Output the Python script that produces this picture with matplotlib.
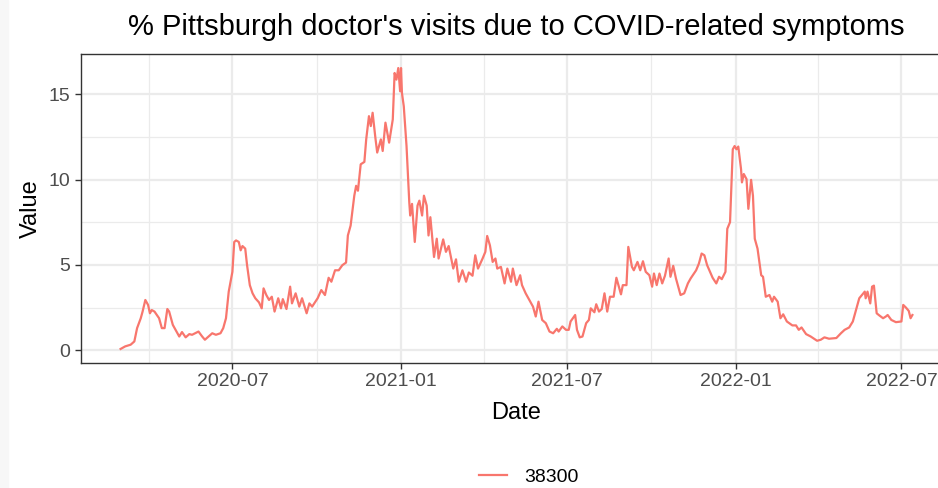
import matplotlib.pyplot as plt
import matplotlib.dates as mdates
from matplotlib.patches import Rectangle
import pandas as pd

# values; day offsets count from start_date
start_date = '2020-03-01'
days = [0, 5, 11, 15, 18, 22, 24, 27, 30, 32, 34, 37, 42, 45, 48, 51, 53, 57, 61, 64,
        67, 71, 75, 78, 85, 89, 92, 96, 100, 104, 109, 112, 115, 118, 122, 124, 126, 129,
        131, 133, 136, 138, 141, 144, 147, 151, 154, 156, 159, 162, 165, 168, 172, 175,
        177, 181, 185, 187, 191, 195, 198, 203, 206, 209, 215, 219, 223, 227, 230, 234,
        238, 242, 246, 248, 251, 255, 257, 259, 262, 266, 268, 271, 273, 275, 278, 280,
        284, 286, 289, 293, 297, 299, 301, 303, 305, 306, 307, 309, 312, 315, 316, 318,
        321, 324, 326, 329, 331, 334, 336, 338, 342, 345, 347, 352, 355, 358, 363, 366,
        369, 373, 377, 380, 384, 387, 390, 395, 398, 400, 403, 406, 409, 411, 415, 419,
        422, 426, 428, 432, 436, 438, 442, 446, 450, 453, 456, 460, 464, 468, 472, 476,
        478, 482, 486, 489, 491, 496, 498, 501, 504, 508, 511, 513, 517, 519, 522, 525,
        528, 531, 534, 538, 541, 546, 548, 552, 554, 558, 560, 564, 567, 570, 573, 577,
        580, 582, 585, 588, 591, 594, 598, 600, 603, 606, 611, 615, 619, 622, 628, 631,
        634, 637, 640, 646, 650, 653, 656, 660, 662, 665, 668, 670, 672, 674, 677, 678,
        680, 683, 685, 688, 690, 692, 695, 699, 701, 704, 708, 711, 713, 717, 720, 723,
        727, 733, 737, 740, 743, 748, 753, 760, 764, 768, 773, 781, 786, 790, 795, 799,
        802, 806, 809, 812, 813, 815, 818, 820, 822, 825, 828, 832, 835, 837, 841, 846,
        852, 854, 857, 860, 862, 864]
values = [0.08, 0.23, 0.33, 0.52, 1.3, 1.88, 2.27, 2.95, 2.66, 2.17, 2.36, 2.27, 1.88, 1.3,
          1.3, 2.42, 2.27, 1.49, 1.1, 0.81, 1.07, 0.76, 0.95, 0.91, 1.1, 0.81, 0.62, 0.81,
          1.0, 0.91, 1.0, 1.3, 1.88, 3.44, 4.6, 6.35, 6.44, 6.35, 5.86, 6.11, 5.96, 4.99,
          3.82, 3.34, 3.05, 2.81, 2.46, 3.63, 3.24, 2.95, 3.14, 2.27, 3.05, 2.46, 3.0, 2.42,
          3.73, 2.75, 3.34, 2.56, 3.05, 2.17, 2.75, 2.56, 3.05, 3.53, 3.24, 4.25, 4.02, 4.69,
          4.69, 4.99, 5.14, 6.73, 7.31, 9.06, 9.64, 9.35, 10.9, 11.04, 12.36, 13.72, 13.14,
          13.92, 12.46, 11.59, 12.36, 11.68, 13.34, 12.17, 13.53, 16.25, 15.86, 16.54, 15.18,
          16.54, 15.08, 14.3, 11.97, 8.68, 7.9, 8.58, 6.35, 8.48, 8.77, 7.9, 9.06, 8.48, 6.73,
          7.8, 5.47, 6.54, 5.38, 6.5, 5.77, 6.11, 4.79, 5.33, 4.02, 4.69, 4.02, 4.56, 4.37,
          5.57, 4.79, 5.38, 5.77, 6.7, 6.15, 5.18, 5.38, 4.79, 4.89, 3.92, 4.79, 4.02, 4.79,
          3.82, 4.4, 3.82, 3.34, 2.95, 2.56, 1.98, 2.85, 1.78, 1.59, 1.1, 1.0, 1.26, 1.1,
          1.4, 1.2, 1.2, 1.69, 2.07, 1.2, 0.76, 0.81, 1.59, 1.78, 2.46, 2.23, 2.7, 2.27, 2.42,
          3.34, 2.27, 3.14, 3.14, 4.25, 3.28, 3.82, 3.82, 6.06, 4.89, 4.69, 5.18, 4.69, 5.22,
          4.6, 4.4, 3.73, 4.5, 3.82, 4.5, 3.92, 4.37, 5.38, 4.31, 4.95, 4.21, 3.24, 3.34,
          3.92, 4.21, 4.69, 5.08, 5.67, 5.57, 4.99, 4.25, 3.92, 4.31, 4.17, 4.6, 7.12, 7.51,
          11.78, 11.97, 11.78, 11.94, 10.62, 9.84, 10.33, 10.03, 8.29, 9.99, 9.06, 6.54, 5.96,
          4.4, 4.31, 3.14, 3.24, 2.85, 3.14, 2.85, 1.88, 2.11, 1.69, 1.46, 1.46, 1.2, 1.34,
          0.95, 0.81, 0.56, 0.62, 0.76, 0.68, 0.72, 1.0, 1.2, 1.34, 1.69, 2.27, 3.05, 3.24,
          3.44, 3.05, 3.44, 2.75, 3.73, 3.79, 2.17, 2.04, 1.88, 1.98, 2.07, 1.78, 1.65, 1.69,
          2.66, 2.5, 2.31, 1.88, 2.07]
series_name = '38300'
title = "% Pittsburgh doctor's visits due to COVID-related symptoms"

dates = pd.Timestamp(start_date) + pd.to_timedelta(days, unit='D')

plt.rcParams['font.family'] = ['Liberation Sans', 'DejaVu Sans']

W, H = 938, 488
fig = plt.figure(figsize=(W / 100, H / 100), dpi=100)
# faint grey strip at the very left edge of the reference
fig.patches.append(Rectangle((0, 0), 8 / W, 1, transform=fig.transFigure,
                             color='#F7F7F7', zorder=-1))

ax = fig.add_axes([81 / W, 1 - 363 / H, (952 - 81) / W, (363 - 54) / H])
ax.plot(dates, values, color='#F8766D', lw=1.6, label=series_name)

# ggplot style 5% expansion
span = dates[-1] - dates[0]
ax.set_xlim(dates[0] - 0.05 * span, dates[-1] + 0.05 * span)
pad = 0.05 * (max(values) - min(values))
ax.set_ylim(min(values) - pad, max(values) + pad)

ax.xaxis.set_major_locator(mdates.MonthLocator(bymonth=[1, 7]))
ax.xaxis.set_minor_locator(mdates.MonthLocator(bymonth=[4, 10]))
ax.xaxis.set_major_formatter(mdates.DateFormatter('%Y-%m'))
ax.set_yticks([0, 5, 10, 15])
ax.set_yticks([2.5, 7.5, 12.5], minor=True)

ax.set_axisbelow(True)
ax.grid(which='major', color='#EBEBEB', lw=1.6)
ax.grid(which='minor', color='#EBEBEB', lw=0.9)
for s in ax.spines.values():
    s.set_color('#333333')
    s.set_linewidth(1.0)
ax.tick_params(which='major', length=4.5, width=1, color='#333333',
               labelcolor='#4D4D4D', labelsize=14, pad=3)
ax.tick_params(which='minor', length=0)

ax.set_xlabel('Date', fontsize=17, labelpad=8)
ax.set_ylabel('Value', fontsize=17, labelpad=5)

fig.text(516.5 / W, 1 - 27 / H, title, fontsize=21, ha='center', va='center')

fig.legend(loc='center', bbox_to_anchor=(529 / W, 1 - 477 / H), frameon=False,
           fontsize=14, handlelength=1.4, handletextpad=0.9)

fig.savefig('out.png', dpi=100)
